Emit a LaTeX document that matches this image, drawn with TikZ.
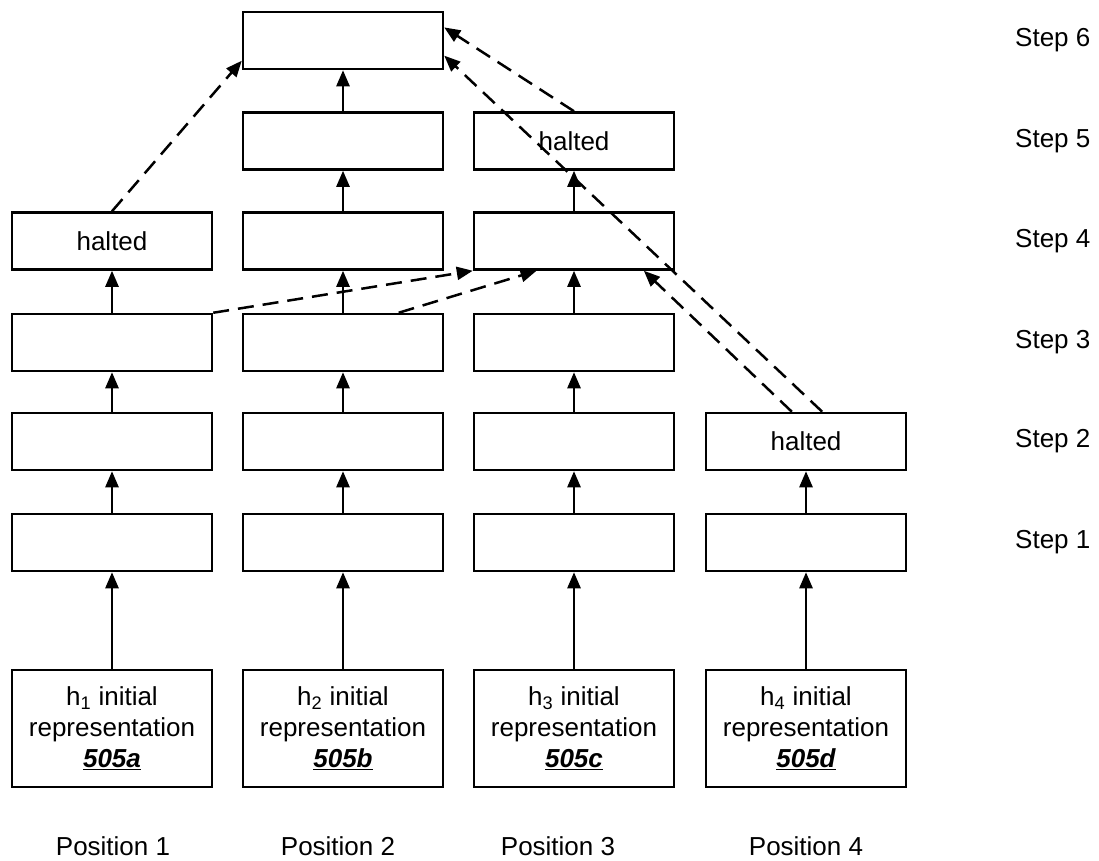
\documentclass[tikz,border=0pt]{standalone}
\usepackage{fontspec}
\setmainfont{Liberation Sans}
\usetikzlibrary{arrows.meta,calc}

\tikzset{
  stage/.style={draw, line width=2.5pt, minimum width=200pt, minimum height=57pt,
    inner sep=0pt, font=\fontsize{26}{31}\selectfont},
  initbox/.style={stage, minimum height=117pt, align=center},
  lbl/.style={font=\fontsize{26}{31}\selectfont, inner sep=0pt},
  flow/.style={line width=2.5pt, -{Triangle[length=16pt,width=13pt]}},
  skip/.style={flow, dash pattern=on 16pt off 9pt},
}
\newcommand{\refnum}[1]{\textbf{\textit{\underline{#1}}}}

\begin{document}
\begin{tikzpicture}[x=1pt, y=-1pt]
  \useasboundingbox (0,0) rectangle (1099,860);

  % step rows
  \node[stage] (s6)   at (343,40.5) {};

  \node[stage] (c2s5) at (343,141) {};
  \node[stage] (c3s5) at (574,141) {halted};

  \node[stage] (c1s4) at (112,241) {halted};
  \node[stage] (c2s4) at (343,241) {};
  \node[stage] (c3s4) at (574,241) {};

  \node[stage] (c1s3) at (112,342.5) {};
  \node[stage] (c2s3) at (343,342.5) {};
  \node[stage] (c3s3) at (574,342.5) {};

  \node[stage] (c1s2) at (112,441.5) {};
  \node[stage] (c2s2) at (343,441.5) {};
  \node[stage] (c3s2) at (574,441.5) {};
  \node[stage] (c4s2) at (806,441.5) {halted};

  \node[stage] (c1s1) at (112,542.5) {};
  \node[stage] (c2s1) at (343,542.5) {};
  \node[stage] (c3s1) at (574,542.5) {};
  \node[stage] (c4s1) at (806,542.5) {};

  % initial representations
  \node[initbox] (h1) at (112,728.5) {h\textsubscript{1} initial\\representation\\\refnum{505a}};
  \node[initbox] (h2) at (343,728.5) {h\textsubscript{2} initial\\representation\\\refnum{505b}};
  \node[initbox] (h3) at (574,728.5) {h\textsubscript{3} initial\\representation\\\refnum{505c}};
  \node[initbox] (h4) at (806,728.5) {h\textsubscript{4} initial\\representation\\\refnum{505d}};

  % step labels
  \node[lbl, anchor=west] (l6) at (1015,40.5)  {Step 6};
  \node[lbl, anchor=west] (l5) at (1015,141)   {Step 5};
  \node[lbl, anchor=west] (l4) at (1015,241)   {Step 4};
  \node[lbl, anchor=west] (l3) at (1015,342.5) {Step 3};
  \node[lbl, anchor=west] (l2) at (1015,441.5) {Step 2};
  \node[lbl, anchor=west] (l1) at (1015,542.5) {Step 1};

  % position labels
  \node[lbl, anchor=base] (p1) at (113,855) {Position 1};
  \node[lbl, anchor=base] (p2) at (338,855) {Position 2};
  \node[lbl, anchor=base] (p3) at (558,855) {Position 3};
  \node[lbl, anchor=base] (p4) at (806,855) {Position 4};

  % vertical updates
  \draw[flow] (h1.north) -- (c1s1.south);
  \draw[flow] (c1s1.north) -- (c1s2.south);
  \draw[flow] (c1s2.north) -- (c1s3.south);
  \draw[flow] (c1s3.north) -- (c1s4.south);

  \draw[flow] (h2.north) -- (c2s1.south);
  \draw[flow] (c2s1.north) -- (c2s2.south);
  \draw[flow] (c2s2.north) -- (c2s3.south);
  \draw[flow] (c2s3.north) -- (c2s4.south);
  \draw[flow] (c2s4.north) -- (c2s5.south);
  \draw[flow] (c2s5.north) -- (s6.south);

  \draw[flow] (h3.north) -- (c3s1.south);
  \draw[flow] (c3s1.north) -- (c3s2.south);
  \draw[flow] (c3s2.north) -- (c3s3.south);
  \draw[flow] (c3s3.north) -- (c3s4.south);
  \draw[flow] (c3s4.north) -- (c3s5.south);

  \draw[flow] (h4.north) -- (c4s1.south);
  \draw[flow] (c4s1.north) -- (c4s2.south);

  % attention connections
  \draw[skip] (c1s4.north) -- ($(s6.south west)!0.16!(s6.north west)$);
  \draw[skip] (c1s3.north east) -- (c3s4.south west);
  \draw[skip] ($(c2s3.north west)!0.775!(c2s3.north east)$) -- ($(c3s4.south west)!0.315!(c3s4.south east)$);
  \draw[skip] ($(c4s2.north west)!0.43!(c4s2.north east)$) -- ($(c3s4.south west)!0.845!(c3s4.south east)$);
  \draw[skip] ($(c4s2.north west)!0.58!(c4s2.north east)$) -- ($(s6.south east)!0.245!(s6.north east)$);
  \draw[skip] (c3s5.north) -- ($(s6.south east)!0.72!(s6.north east)$);
\end{tikzpicture}
\end{document}
